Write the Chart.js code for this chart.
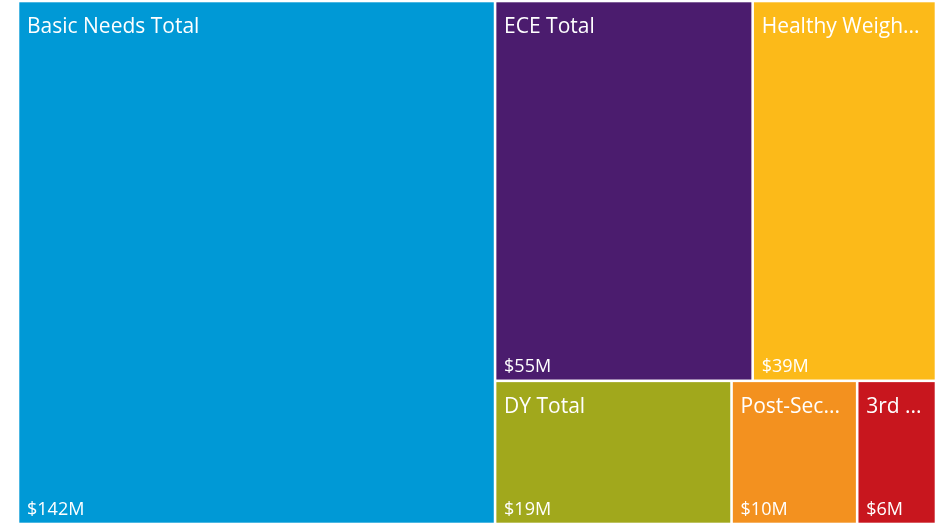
<!DOCTYPE html>
<html>
<head>
<meta charset="utf-8">
<script src="https://cdn.jsdelivr.net/npm/chart.js@4.4.1/dist/chart.umd.min.js"></script>
<style>
  html, body { margin: 0; padding: 0; background: #fff; }
  #wrap { width: 943px; height: 525px; }
</style>
</head>
<body>
<div id="wrap"><canvas id="chart"></canvas></div>
<script>
// program totals, $ millions (unrounded estimates read from the tile sizes)
var categories = ['Basic Needs Total', 'ECE Total', 'Healthy Weight Total', 'DY Total', 'Post-Secondary Total', '3rd Grade Reading Total'];
var amounts = [141.5, 55.49, 39.49, 19.2, 10.2, 6.4];
var valueLabels = ['$142M', '$55M', '$39M', '$19M', '$10M', '$6M'];
var tileColors = ['#0099d6', '#4b1c6e', '#fcba19', '#a1a81c', '#f3911f', '#c8161e'];

// squarified layout (average aspect ratio criterion)
function avgRatio(row, side) {
    var s = row.reduce(function(a, b) { return a + b.area; }, 0);
    var t = s / side;
    var r = 0;
    row.forEach(function(it) {
        var len = it.area / t;
        r += Math.max(len / t, t / len);
    });
    return r / row.length;
}

function squarify(items, rect) {
    var out = [];
    var i = 0;
    while (i < items.length) {
        var side = Math.min(rect.w, rect.h);
        var row = [items[i]];
        i++;
        while (i < items.length && avgRatio(row.concat([items[i]]), side) <= avgRatio(row, side)) {
            row.push(items[i]);
            i++;
        }
        var s = row.reduce(function(a, b) { return a + b.area; }, 0);
        if (rect.w >= rect.h) {
            var tw = s / rect.h, yy = rect.y;
            row.forEach(function(it) {
                var hh = it.area / tw;
                out.push({ idx: it.idx, x: rect.x, y: yy, w: tw, h: hh });
                yy += hh;
            });
            rect = { x: rect.x + tw, y: rect.y, w: rect.w - tw, h: rect.h };
        } else {
            var th = s / rect.w, xx = rect.x;
            row.forEach(function(it) {
                var ww = it.area / th;
                out.push({ idx: it.idx, x: xx, y: rect.y, w: ww, h: th });
                xx += ww;
            });
            rect = { x: rect.x, y: rect.y + th, w: rect.w, h: rect.h - th };
        }
    }
    return out;
}

function fitText(ctx, text, maxW) {
    if (ctx.measureText(text).width <= maxW) return text;
    var t = text;
    while (t.length > 0 && ctx.measureText(t + '...').width > maxW) t = t.slice(0, -1);
    return t + '...';
}

var treemapPlugin = {
    id: 'treemap',
    afterDatasetsDraw: function(chart) {
        var ctx = chart.ctx, area = chart.chartArea;
        var xs = chart.scales.x, ys = chart.scales.y;
        var W = area.right - area.left, H = area.bottom - area.top;
        var total = amounts.reduce(function(a, b) { return a + b; }, 0);
        var items = amounts.map(function(v, i) { return { idx: i, area: v / total * W * H }; });
        var tiles = squarify(items, { x: 0, y: 0, w: W, h: H });
        ctx.save();
        tiles.forEach(function(t) {
            var x0 = xs.getPixelForValue(t.x / W), x1 = xs.getPixelForValue((t.x + t.w) / W);
            var y0 = ys.getPixelForValue(t.y / H), y1 = ys.getPixelForValue((t.y + t.h) / H);
            ctx.fillStyle = tileColors[t.idx];
            ctx.fillRect(x0 + 1.3, y0 + 1.3, x1 - x0 - 2.6, y1 - y0 - 2.6);
            ctx.fillStyle = '#ffffff';
            ctx.textBaseline = 'middle';
            ctx.textAlign = 'left';
            ctx.font = '21px "Open Sans"';
            ctx.fillText(fitText(ctx, categories[t.idx], x1 - x0 - 19), x0 + 9, y0 + 26);
            ctx.font = '18px "Open Sans"';
            ctx.fillText(valueLabels[t.idx], x0 + 9, y1 - 14);
        });
        ctx.restore();
    }
};

new Chart(document.getElementById('chart'), {
    type: 'scatter',
    data: { datasets: [{ data: [] }] },
    options: {
        responsive: true,
        maintainAspectRatio: false,
        animation: false,
        layout: { padding: { left: 18, right: 7, top: 1, bottom: 1 } },
        plugins: { legend: { display: false }, tooltip: { enabled: false } },
        scales: {
            x: { type: 'linear', min: 0, max: 1, display: false },
            y: { type: 'linear', min: 0, max: 1, reverse: true, display: false }
        }
    },
    plugins: [treemapPlugin]
});
</script>
</body>
</html>
